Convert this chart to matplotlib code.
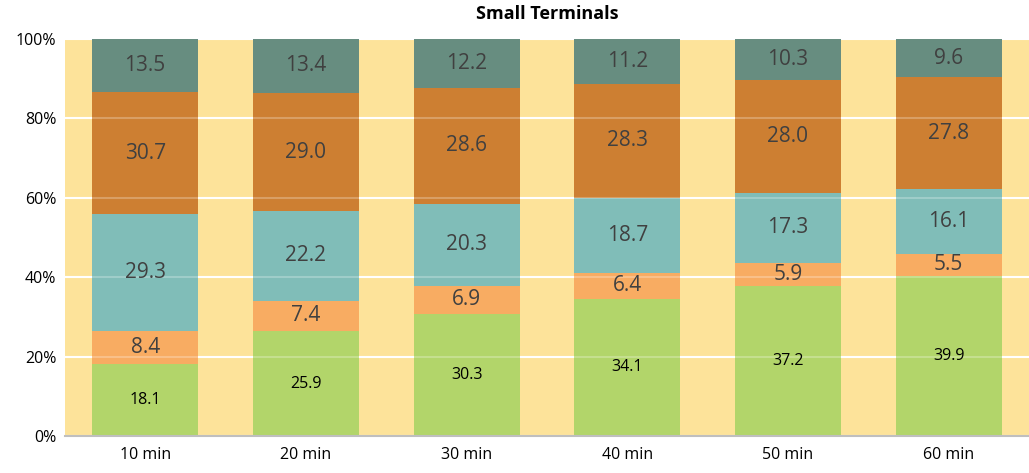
import matplotlib.pyplot as plt
import numpy as np
from matplotlib.ticker import PercentFormatter

plt.rcParams['font.family'] = ['Open Sans', 'DejaVu Sans']

# Data
categories = ['10 min', '20 min', '30 min', '40 min', '50 min', '60 min']
s1 = [18.1, 25.9, 30.3, 34.1, 37.2, 39.9]
s2 = [8.4, 7.4, 6.9, 6.4, 5.9, 5.5]
s3 = [29.3, 22.2, 20.3, 18.7, 17.3, 16.1]
s4 = [30.7, 29.0, 28.6, 28.3, 28.0, 27.8]
s5 = [13.5, 13.4, 12.2, 11.2, 10.3, 9.6]

series = [s1, s2, s3, s4, s5]
colors = ['#b2d56a', '#f8ac62', '#80bdb8', '#cd7f32', '#678d80']

fig = plt.figure(figsize=(10.29, 4.73), dpi=100)
ax = fig.add_axes([0.063, 0.078, 0.937, 0.84])
ax.set_facecolor('#fde39a')

x = np.arange(len(categories))
totals = np.sum(np.array(series), axis=0)
bottom = np.zeros(len(categories))
for i, (vals, c) in enumerate(zip(series, colors)):
    vals = np.array(vals)
    pct = vals / totals * 100  # 100% stacked
    ax.bar(x, pct, 0.66, bottom=bottom, color=c, zorder=2)
    for xi, b, p, v in zip(x, bottom, pct, vals):
        if i == 0:
            ax.text(xi, b + p / 2, f'{v:.1f}', ha='center', va='center',
                    fontsize=11.5, color='black', zorder=4)
        else:
            ax.text(xi, b + p / 2, f'{v:.1f}', ha='center', va='center',
                    fontsize=15, color='#404040', zorder=4)
    bottom += pct

ax.set_xlim(-0.5, len(categories) - 0.5)
ax.set_ylim(0, 100)
ax.set_yticks([0, 20, 40, 60, 80, 100])
ax.yaxis.set_major_formatter(PercentFormatter(decimals=0))
ax.grid(axis='y', color='white', linewidth=1.5, zorder=1)
ax.set_axisbelow(True)
# faint gridlines showing through the bars
for yv in [20, 40, 60, 80]:
    ax.axhline(yv, color='white', linewidth=1.5, alpha=0.25, zorder=3)
ax.set_xticks(x)
ax.set_xticklabels(categories)
ax.tick_params(length=0, labelsize=11.5)
ax.tick_params(axis='x', pad=8)
ax.tick_params(axis='y', pad=6)
for s in ['top', 'right', 'left']:
    ax.spines[s].set_visible(False)
ax.spines['bottom'].set_color('#bfbfbf')
ax.spines['bottom'].set_linewidth(1.5)

ax.set_title('Small Terminals', fontsize=13, fontweight='bold', pad=14)

fig.savefig('out.png', dpi=100)
